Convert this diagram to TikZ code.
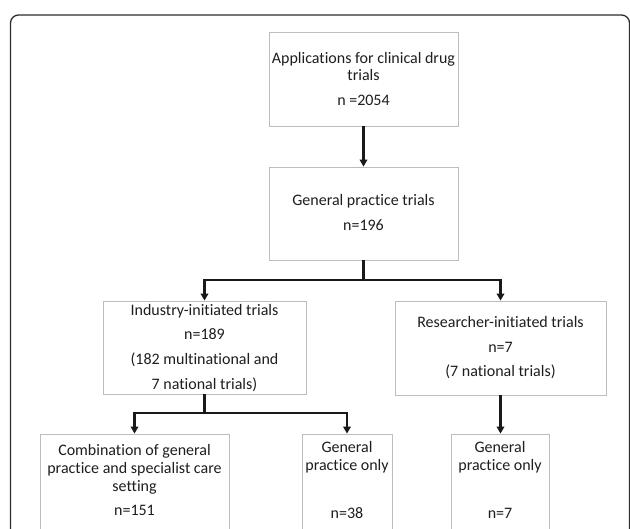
\documentclass[tikz,border=0pt]{standalone}
\usepackage{fontspec}
\setmainfont{Carlito}[Ligatures=NoCommon]
\usetikzlibrary{arrows.meta,shadows}
\definecolor{boxgray}{HTML}{BDBDBD}
\definecolor{framegray}{HTML}{2E2E2E}
\definecolor{txtcol}{HTML}{1E1E1E}
\begin{document}
\begin{tikzpicture}[x=1bp,y=-1bp,
  box/.style={draw=boxgray, line width=0.8bp, fill=white, inner sep=0pt,
    drop shadow={shadow xshift=1.3bp, shadow yshift=-1.3bp, opacity=0.25, fill=black}},
  txt/.style={anchor=base, inner sep=0pt, text=txtcol, font=\fontsize{16bp}{18bp}\selectfont},
  arr/.style={draw=black!90, line width=2.6bp, -{Triangle[width=7.5bp,length=7bp]}},
  ln/.style={draw=black!90, line width=2.6bp}]
\useasboundingbox (0,0) rectangle (630,529);
\clip (0,0) rectangle (630,529);
\fill[white] (0,0) rectangle (630,529);
\draw[draw=framegray, line width=1.3bp, rounded corners=8bp] (10.5,15) rectangle (629.5,580);

% boxes
\node[box, minimum width=189bp, minimum height=94bp] (A) at (363.5,79) {};
\node[box, minimum width=189bp, minimum height=93bp] (B) at (363.5,213.5) {};
\node[box, minimum width=203bp, minimum height=93bp] (Ind) at (204.5,347.5) {};
\node[box, minimum width=211bp, minimum height=94bp] (Res) at (500.5,348) {};
\node[box, minimum width=189bp, minimum height=111bp] (Comb) at (134.5,489.5) {};
\node[box, minimum width=90bp, minimum height=111bp] (GP1) at (347,489.5) {};
\node[box, minimum width=98bp, minimum height=111bp] (GP2) at (500,489.5) {};

% texts
\node[txt] (a1) at (363.5,64) {Applications for clinical drug};
\node[txt] (a2) at (363.5,81) {trials};
\node[txt] (a3) at (363.5,106) {n =2054};
\node[txt] (b1) at (363.5,206) {General practice trials};
\node[txt] (b2) at (363.5,231) {n=196};
\node[txt] (i1) at (204.5,315) {Industry-initiated trials};
\node[txt] (i2) at (204.5,339) {n=189};
\node[txt] (i3) at (204.5,364) {(182 multinational and};
\node[txt] (i4) at (204.5,389) {7 national trials)};
\node[txt] (r1) at (500.5,327) {Researcher-initiated trials};
\node[txt] (r2) at (500.5,352) {n=7};
\node[txt] (r3) at (500.5,376) {(7 national trials)};
\node[txt] (c1) at (134.5,455) {Combination of general};
\node[txt] (c2) at (134.5,473) {practice and specialist care};
\node[txt] (c3) at (134.5,491) {setting};
\node[txt] (c4) at (134.5,515) {n=151};
\node[txt] (g1) at (347,452) {General};
\node[txt] (g2) at (347,470) {practice only};
\node[txt] (g3) at (347,518) {n=38};
\node[txt] (h1) at (500,452) {General};
\node[txt] (h2) at (500,470) {practice only};
\node[txt] (h3) at (500,518) {n=7};

% connectors
\coordinate (j1) at (363.5,280);
\coordinate (j2) at (204.5,413);
\draw[arr] (A.south) -- (B.north);
\draw[ln] (B.south) -- (j1);
\draw[arr] (j1) -| (Ind.north);
\draw[arr] (j1) -| (Res.north);
\draw[ln] (Ind.south) -- (j2);
\draw[arr] (j2) -| (Comb.north);
\draw[arr] (j2) -| (GP1.north);
\draw[arr] (Res.south) -- (Res.south |- GP2.north);
\end{tikzpicture}
\end{document}
